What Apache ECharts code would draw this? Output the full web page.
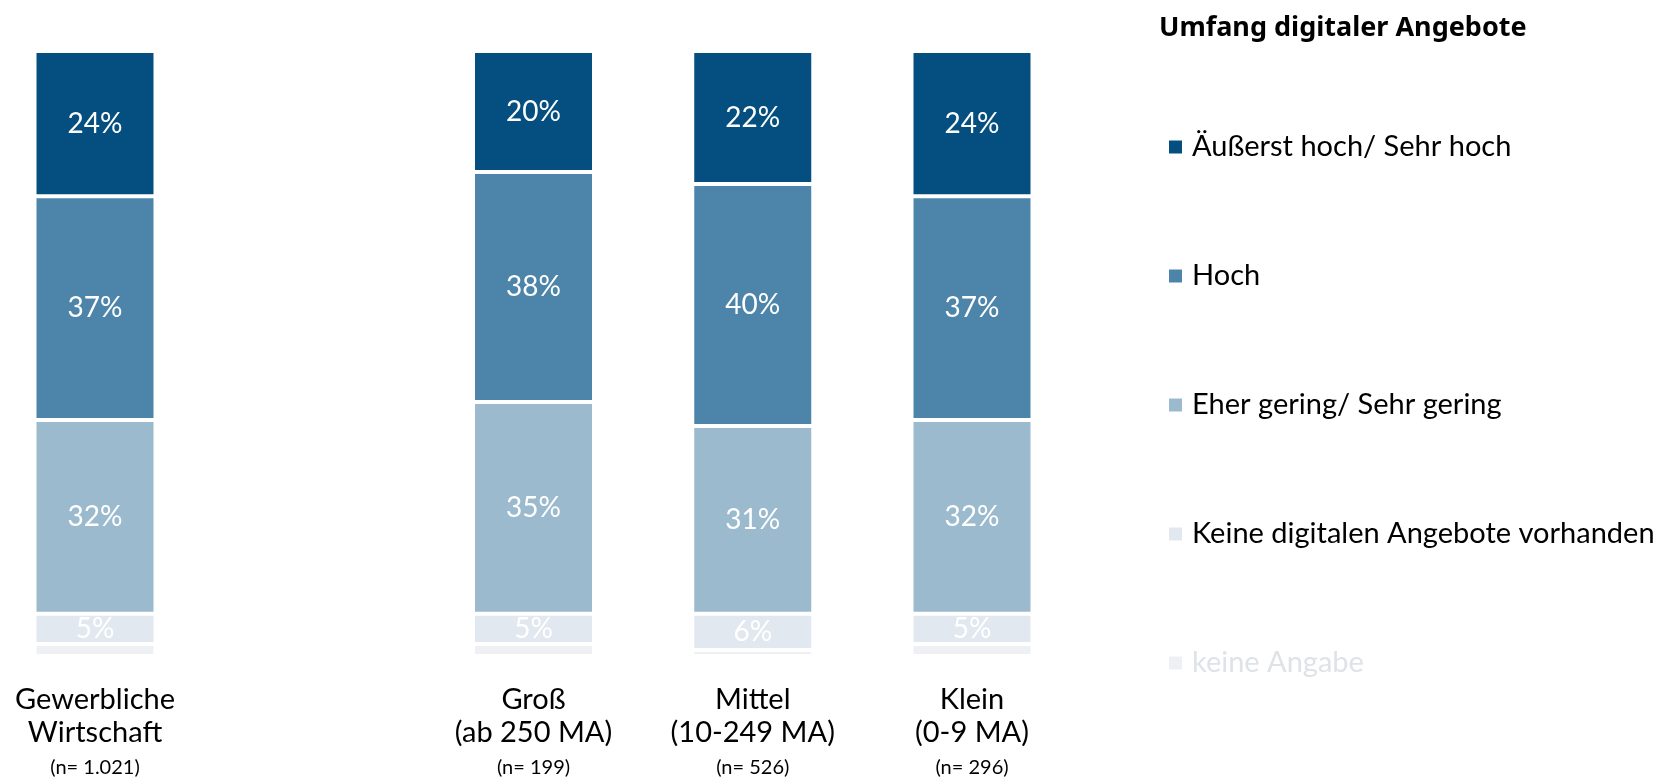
<!DOCTYPE html>
<html>
<head>
<meta charset="utf-8">
<script src="https://cdn.jsdelivr.net/npm/echarts@6/dist/echarts.min.js"></script>
<style>
    html, body { margin: 0; padding: 0; background: #fff; }
    #chart { width: 1675px; height: 781px; }
</style>
</head>
<body>
<div id="chart"></div>
<script>
    // Kategorien (leere Kategorie als Abstand nach der Gesamtwirtschaft)
    const categories = ['Gewerbliche\nWirtschaft', '', 'Groß\n(ab 250 MA)', 'Mittel\n(10-249 MA)', 'Klein\n(0-9 MA)'];
    const sampleSizes = ['1.021', '', '199', '526', '296'];

    // Anteile in %, von oben nach unten gestapelt
    const sehrHoch     = [24, null, 20, 22, 24];
    const hoch         = [37, null, 38, 40, 37];
    const gering       = [32, null, 35, 31, 32];
    const keineDigital = [5, null, 5, 6, 5];
    const keineAngabe  = [2, null, 2, 1, 2];

    const legendTitle = 'Umfang digitaler Angebote';
    const seriesNames = ['Äußerst hoch/ Sehr hoch', 'Hoch', 'Eher gering/ Sehr gering', 'Keine digitalen Angebote vorhanden', 'keine Angabe'];
    const colors = ['#044f7f', '#4d84a9', '#9bbace', '#e1e8ef', '#eef0f4'];

    const font = 'Lato';

    function makeSeries(name, data, color, showLabel) {
        return {
            name: name,
            type: 'bar',
            stack: 'total',
            barWidth: 121,
            data: data,
            itemStyle: { color: color, borderColor: '#fff', borderWidth: 2 },
            label: {
                show: showLabel,
                position: 'inside',
                color: '#fff',
                fontFamily: font,
                fontSize: 28,
                formatter: '{c}%'
            },
            emphasis: { disabled: true }
        };
    }

    const myChart = echarts.init(document.getElementById('chart'));
    const option = {
        animation: false,
        backgroundColor: '#fff',
        title: {
            text: legendTitle,
            left: 1154,
            top: 7,
            textStyle: { fontFamily: 'Noto Sans', fontSize: 27, fontWeight: 'bold', color: '#000', lineHeight: 32 }
        },
        legend: {
            orient: 'vertical',
            left: 1162,
            top: 126,
            itemWidth: 15,
            itemHeight: 15,
            itemGap: 97,
            icon: 'rect',
            textStyle: { fontFamily: font, fontSize: 29, color: '#000', lineHeight: 32, padding: [0, 0, 0, 4] },
            data: [
                { name: seriesNames[0] },
                { name: seriesNames[1] },
                { name: seriesNames[2] },
                { name: seriesNames[3] },
                { name: seriesNames[4], textStyle: { color: '#dfe2e7' } }
            ],
            selectedMode: false
        },
        grid: { left: 95, right: 703, top: 51, bottom: 125 },
        xAxis: {
            type: 'category',
            data: categories,
            boundaryGap: false,
            axisLine: { show: false },
            axisTick: { show: false },
            axisLabel: {
                margin: 27,
                interval: 0,
                formatter: function (value, idx) {
                    if (!value) return '';
                    const lines = value.split('\n').map(function (l) { return '{a|' + l + '}'; });
                    return lines.join('\n') + '\n{n|(n= ' + sampleSizes[idx] + ')}';
                },
                rich: {
                    a: { fontFamily: font, fontSize: 29, color: '#000', lineHeight: 33 },
                    n: { fontFamily: font, fontSize: 20, color: '#000', lineHeight: 37 }
                }
            }
        },
        yAxis: { type: 'value', min: 0, max: 100, show: false },
        series: [
            makeSeries(seriesNames[4], keineAngabe, colors[4], false),
            makeSeries(seriesNames[3], keineDigital, colors[3], true),
            makeSeries(seriesNames[2], gering, colors[2], true),
            makeSeries(seriesNames[1], hoch, colors[1], true),
            makeSeries(seriesNames[0], sehrHoch, colors[0], true)
        ]
    };
    myChart.setOption(option);
</script>
</body>
</html>
